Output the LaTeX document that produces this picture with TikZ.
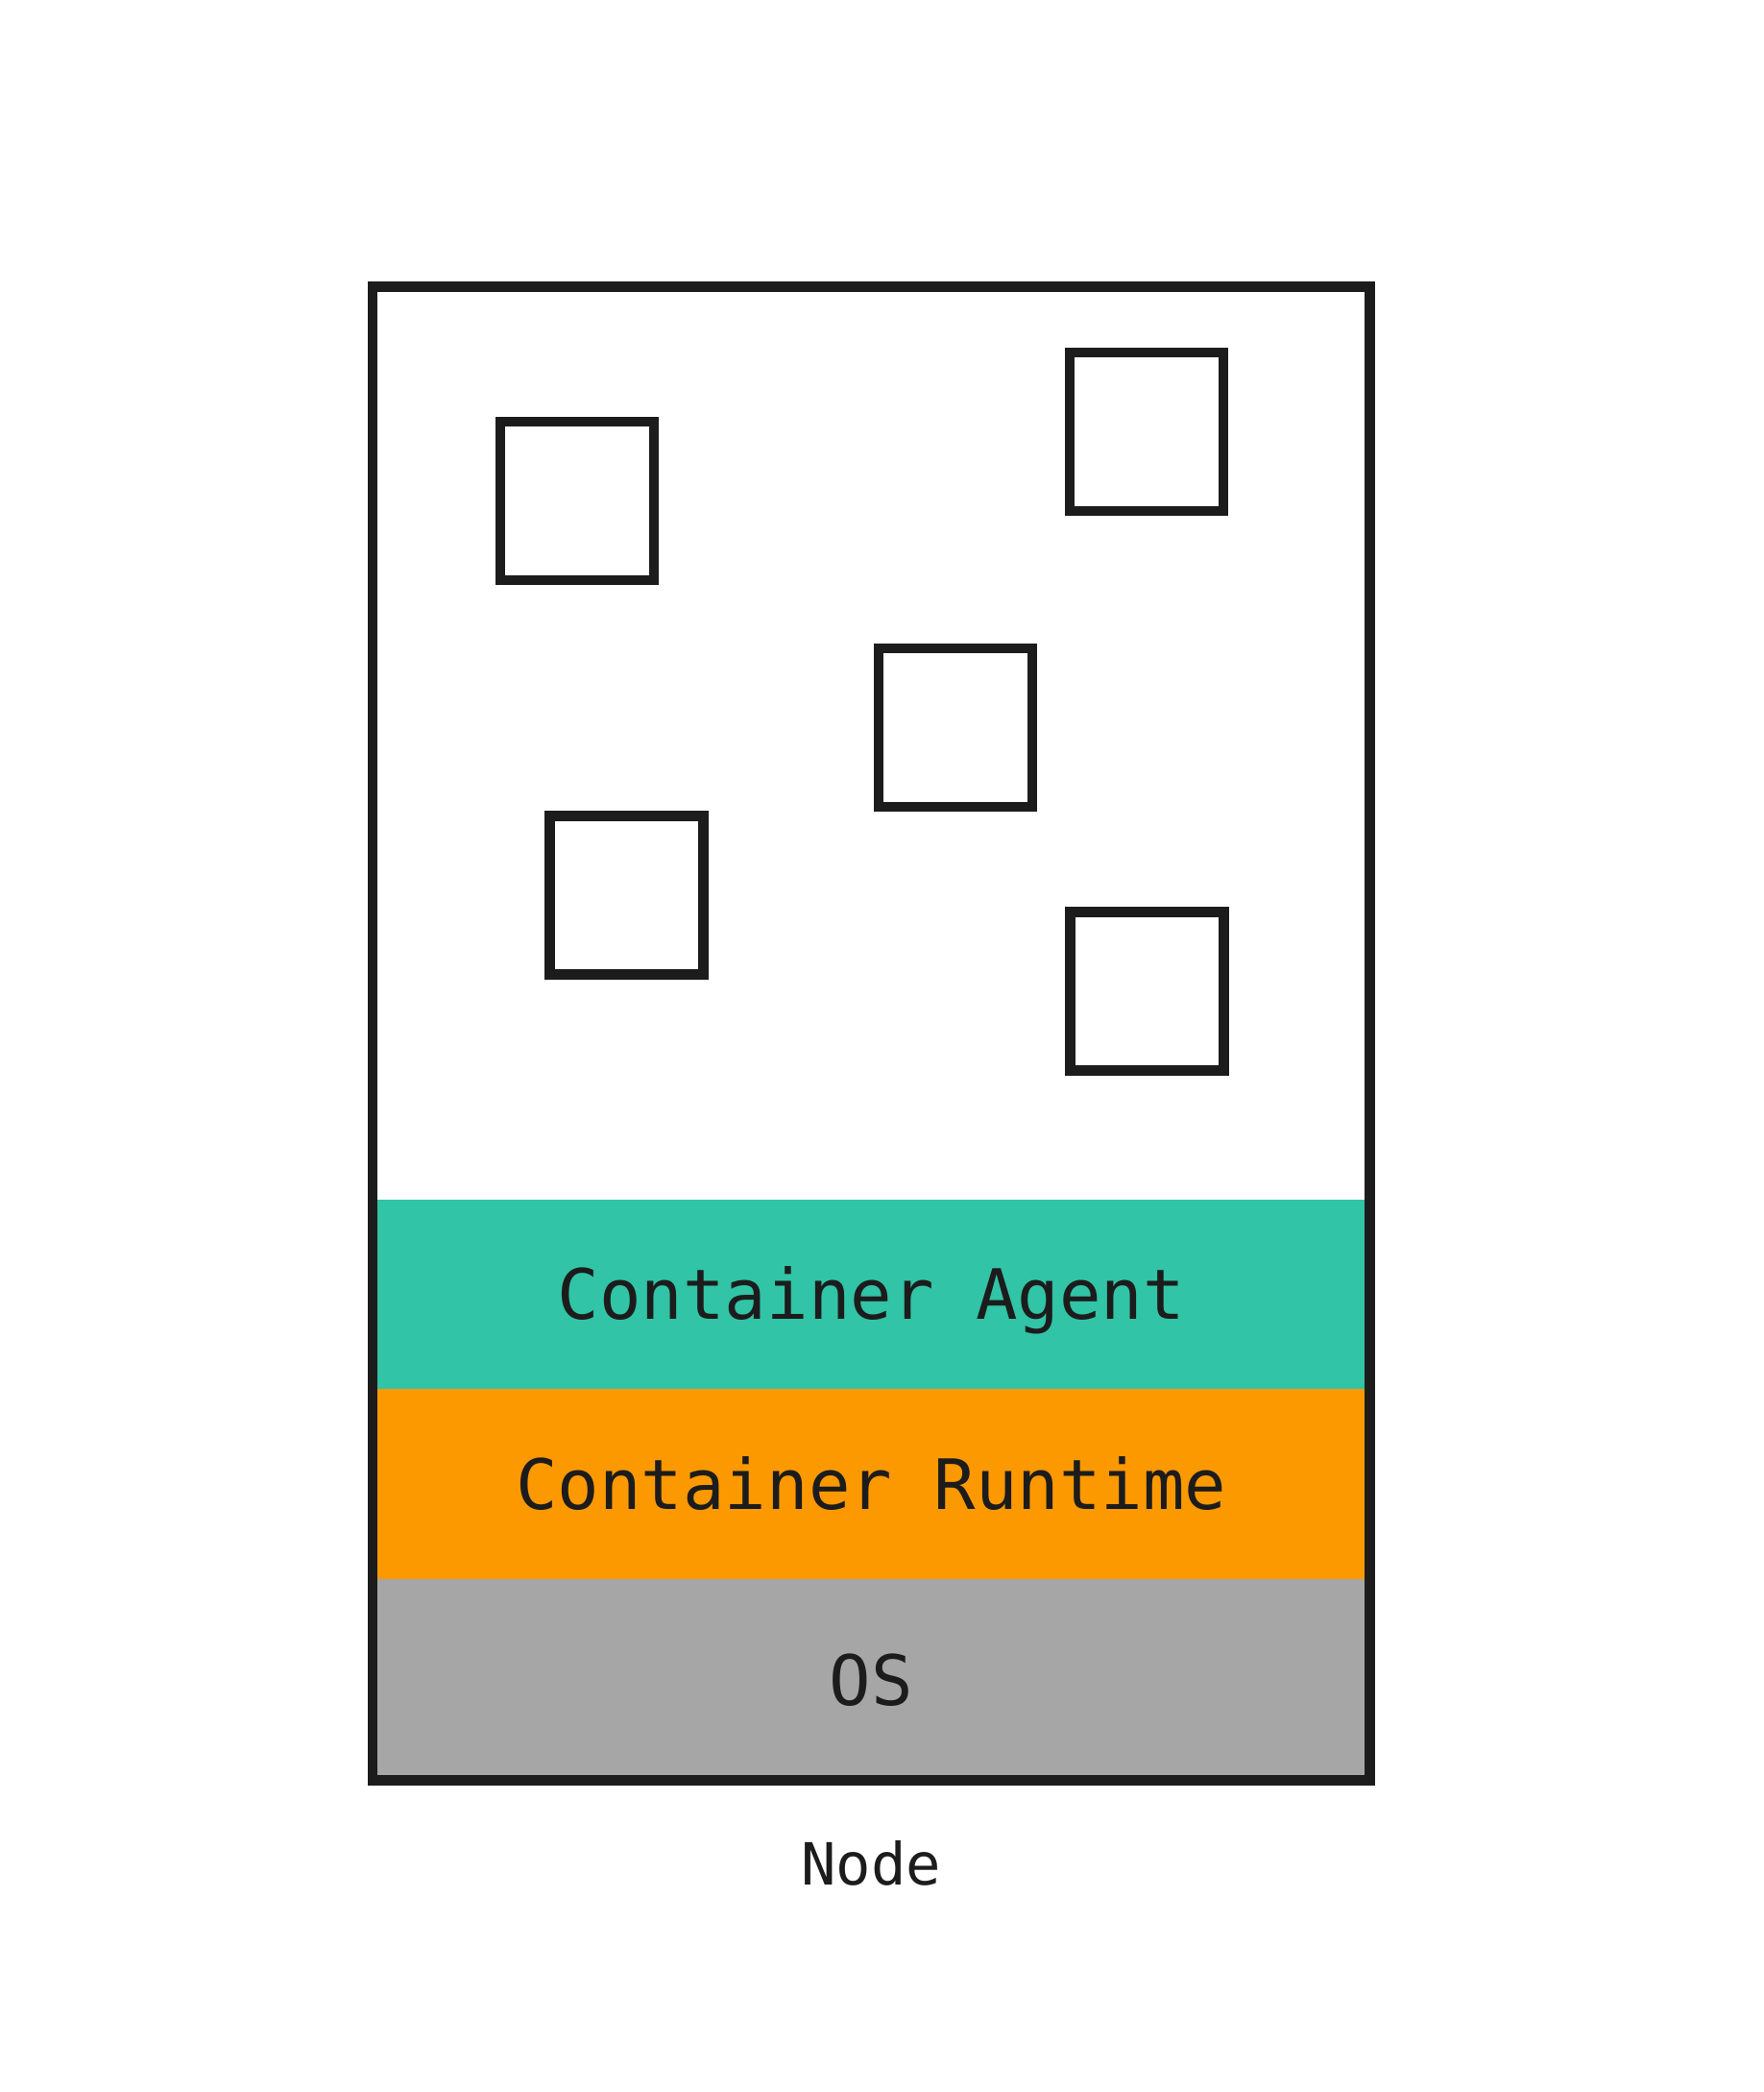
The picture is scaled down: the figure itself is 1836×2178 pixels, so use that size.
\documentclass[tikz,border=0pt]{standalone}
\usepackage{fontspec}
\setmonofont{DejaVu Sans Mono}
\usetikzlibrary{positioning}
\definecolor{ink}{HTML}{1C1C1C}
\definecolor{agentgreen}{HTML}{31C4A6}
\definecolor{runtimeorange}{HTML}{FD9900}
\definecolor{osgray}{HTML}{A6A6A6}
\begin{document}
\begin{tikzpicture}[x=0.5pt, y=-0.5pt,
    layer/.style={minimum width=519.35pt, inner sep=0pt, outer sep=0pt,
      text=ink, font=\fontsize{36.15}{40}\selectfont\ttfamily,
      text height=26.35pt, text depth=0pt},
    pod/.style={draw=ink, line width=5.25pt, minimum width=80pt,
      minimum height=82.5pt, inner sep=0pt, outer sep=0pt}]
  \useasboundingbox (0,0) rectangle (1836,2178);
  \path (388,298.5) coordinate (frameNW)
        (1426.7,1853.5) coordinate (frameSE);
  \node[layer, fill=agentgreen, minimum height=98.75pt, anchor=north]
    (agent) at (907.35,1248.5) {Container Agent};
  \node[layer, fill=runtimeorange, minimum height=99pt, below=0pt of agent]
    (runtime) {Container Runtime};
  \node[layer, fill=osgray, minimum height=104.75pt, below=0pt of runtime]
    (os) {OS};
  \draw[ink, line width=5.25pt] (frameNW) rectangle (frameSE);
  \foreach \name/\px/\py in {pod1/601/521.5, pod2/1194/449.5,
      pod3/995/757.6, pod4/652.7/931.9, pod5/1194.4/1031.9}
    \node[pod] (\name) at (\px,\py) {};
  \node[text=ink, font=\fontsize{30.3}{34}\selectfont\ttfamily, anchor=base]
    (caption) at (907.35,1962) {Node};
\end{tikzpicture}
\end{document}
